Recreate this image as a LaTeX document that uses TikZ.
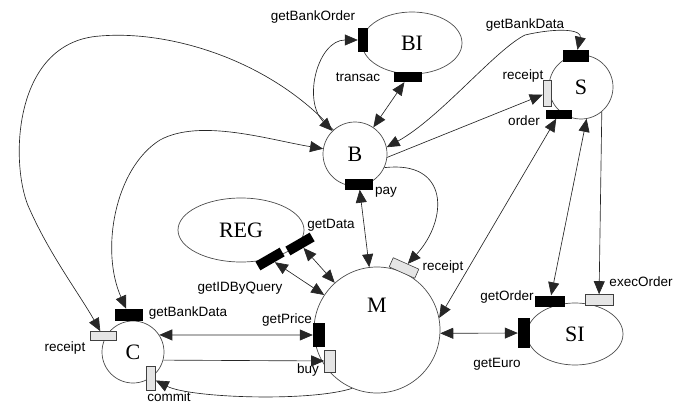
\documentclass[tikz,border=0pt]{standalone}
\usepackage{fontspec}
\setmainfont{Liberation Serif}
\setsansfont{Liberation Sans}
\usetikzlibrary{arrows.meta, shapes.geometric}

\begin{document}
\begin{tikzpicture}[x=1pt, y=-1pt, >={Triangle[length=13pt, width=11pt]},
    plc/.style={draw=black!70, line width=0.7pt, inner sep=0pt, font=\fontsize{22}{24}\selectfont},
    hport/.style={fill=black, inner sep=0pt, minimum width=28pt, minimum height=11pt},
    vport/.style={fill=black, inner sep=0pt, minimum width=11pt, minimum height=26pt},
    grey/.style={fill=black!10, draw=black!75, line width=0.6pt},
    lbl/.style={font=\sffamily\fontsize{13.5}{15}\selectfont, inner sep=0pt},
    arc/.style={black!85, line width=0.65pt}]
  \useasboundingbox (0,0) rectangle (683,404);

  % places
  \node[plc, ellipse, minimum width=100pt, minimum height=62pt] (BI) at (412,43) {BI};
  \node[plc, circle, minimum size=64pt] (S) at (581,87) {S};
  \node[plc, circle, minimum size=64pt] (B) at (355,154) {B};
  \node[plc, ellipse, minimum width=126pt, minimum height=64pt] (REG) at (241,230) {REG};
  \node[plc, circle, minimum size=126pt,
        label={[font=\fontsize{22}{24}\selectfont, yshift=25pt]center:M}] (M) at (377,330) {};
  \node[plc, ellipse, minimum width=96pt, minimum height=62pt] (SI) at (575,334) {SI};
  \node[plc, circle, minimum size=62pt] (C) at (133,352) {C};

  % ports
  \node[vport, minimum width=10pt, minimum height=24pt] (bio) at (363,40) {};
  \node[hport, minimum height=10pt] (bit) at (408,77) {};
  \node[hport, minimum width=26pt, minimum height=12pt] (sgbd) at (576,56) {};
  \node[vport, grey, minimum width=8pt] (srec) at (547,93) {};
  \node[hport, minimum width=26pt, minimum height=9pt] (sord) at (559,114) {};
  \node[hport] (bpay) at (359,184) {};
  \node[hport, minimum height=10pt, rotate=30] (rid) at (270,259) {};
  \node[hport, minimum height=10pt, rotate=30] (rgd) at (300,244) {};
  \node[vport, minimum width=12pt, minimum height=24pt] (mprice) at (319,335) {};
  \node[vport, grey, minimum height=22pt] (mbuy) at (330,361) {};
  \node[hport, grey, minimum height=10pt, rotate=-24] (mrec) at (404,268) {};
  \node[vport, minimum width=12pt, minimum height=30pt] (sieuro) at (524,333) {};
  \node[hport, minimum width=30pt] (siord) at (550,301) {};
  \node[hport, grey] (siexec) at (599,300) {};
  \node[hport, minimum height=12pt] (cgbd) at (129,315) {};
  \node[hport, grey, minimum width=26pt, minimum height=9pt] (crec) at (103,336) {};
  \node[vport, grey, minimum width=9pt, minimum height=24pt] (ccom) at (151,378) {};

  % port labels
  \node[lbl] (l-bio) at (313,17) {getBankOrder};
  \node[lbl] (l-bit) at (358,77) {transac};
  \node[lbl] (l-sgbd) at (525,25) {getBankData};
  \node[lbl] (l-srec) at (523,76) {receipt};
  \node[lbl] (l-sord) at (524,121) {order};
  \node[lbl] (l-bpay) at (386,192) {pay};
  \node[lbl] (l-rgd) at (331,225) {getData};
  \node[lbl] (l-rid) at (240,288) {getIDByQuery};
  \node[lbl] (l-mprice) at (287,320) {getPrice};
  \node[lbl] (l-mbuy) at (308,370) {buy};
  \node[lbl] (l-mrec) at (443,267) {receipt};
  \node[lbl] (l-siord) at (507,297) {getOrder};
  \node[lbl] (l-siexec) at (641,282) {execOrder};
  \node[lbl] (l-sieuro) at (497,364) {getEuro};
  \node[lbl] (l-cgbd) at (188,313) {getBankData};
  \node[lbl] (l-crec) at (65,348) {receipt};
  \node[lbl] (l-ccom) at (169,397) {commit};

  % connectors
  \draw[arc, <->] (B) .. controls (302,100) and (318,40) .. (bio);
  \draw[arc, <->] (B) -- (bit);
  \draw[arc, <->] (B.12) .. controls (440,118) and (495,50) .. (525,35)
                         .. controls (560,27) and (582,30) .. (sgbd);
  \draw[arc, ->] (B.-6) -- (srec);
  \draw[arc, ->] (B.-25) .. controls (450,160) and (448,220) .. (mrec);
  \draw[arc, <->] (bpay) -- (M);
  \draw[arc, <->] (rgd) -- (M);
  \draw[arc, <->] (rid) -- (M);
  \draw[arc, <->] (C.33) -- (mprice);
  \draw[arc, ->] (C.-15) -- (mbuy);
  \draw[arc, ->] (M.-113) .. controls (310,402) and (190,398) .. (ccom);
  \draw[arc, <->] (M.-3) -- (sieuro);
  \draw[arc, <->] (sord) -- (M.11);
  \draw[arc, <->] (S.-80) -- (siord);
  \draw[arc, ->] (S.-50) -- (siexec);
  \draw[arc, <->] (B) .. controls (270,140) and (200,118) .. (160,140)
                      .. controls (115,168) and (100,250) .. (cgbd);
  \draw[arc, ->] (B) .. controls (270,60) and (170,30) .. (100,36)
                     .. controls (10,42) and (10,170) .. (30,210)
                     .. controls (50,255) and (80,295) .. (crec);
\end{tikzpicture}
\end{document}
